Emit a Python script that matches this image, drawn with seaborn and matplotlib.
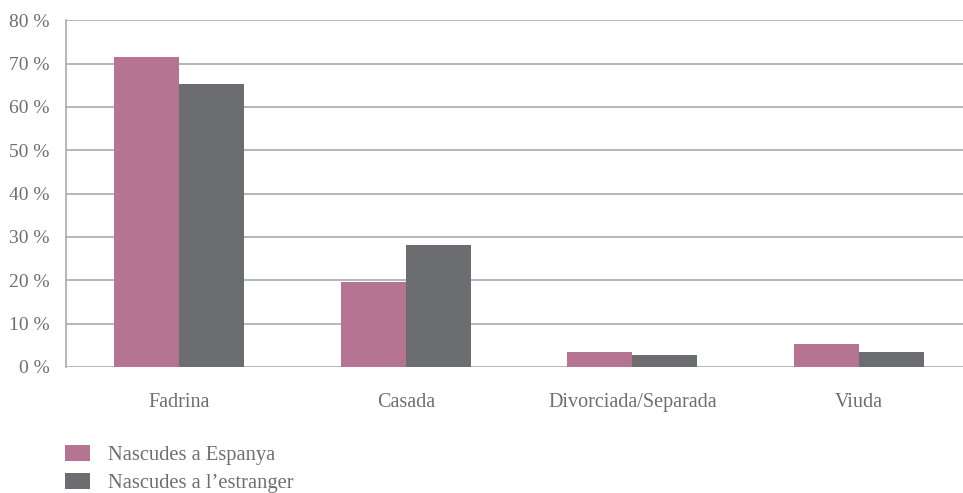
import matplotlib
matplotlib.use("Agg")
import matplotlib.pyplot as plt
from matplotlib.patches import Patch
import seaborn as sns
import pandas as pd

categories = ["Fadrina", "Casada", "Divorciada/Separada", "Viuda"]
series_names = ["Nascudes a Espanya", "Nascudes a l\u2019estranger"]
espanya = [71.6, 19.5, 3.4, 5.2]
estranger = [65.2, 28.2, 2.85, 3.4]
y_ticks = [0, 10, 20, 30, 40, 50, 60, 70, 80]

PINK = "#B57492"
GREY = "#6C6D71"
GRID = "#A9AAAD"
TEXT = "#6D6E71"

df = pd.DataFrame({
    "estat": categories * 2,
    "grup": [series_names[0]] * 4 + [series_names[1]] * 4,
    "valor": espanya + estranger,
})

sns.set_theme(style="white")
plt.rcParams["font.family"] = ["Liberation Serif", "DejaVu Serif"]

fig = plt.figure(figsize=(9.63, 4.93), dpi=100)
ax = fig.add_axes([0.0685, 0.2556, 0.9315, 0.7034])

sns.barplot(data=df, x="estat", y="valor", hue="grup", order=categories,
            hue_order=series_names, palette=[PINK, GREY], saturation=1,
            width=0.574, gap=0, linewidth=0, ax=ax, legend=False, zorder=3)

ax.set_ylim(0, 80)
ax.set_xlim(-0.5, 3.46)
ax.set_yticks(y_ticks)
ax.set_yticklabels([f"{t} %" for t in y_ticks])
ax.yaxis.grid(True, color=GRID, linewidth=1.2, zorder=0)
ax.set_axisbelow(True)
for side in ["top", "right", "bottom"]:
    ax.spines[side].set_visible(False)
ax.spines["left"].set_color(GRID)
ax.spines["left"].set_linewidth(1.2)
ax.tick_params(axis="both", length=0, colors=TEXT)
ax.tick_params(axis="y", pad=12, labelsize=14)
ax.tick_params(axis="x", pad=19, labelsize=14.5)
ax.set_xlabel("")
ax.set_ylabel("")

handles = [Patch(facecolor=PINK, edgecolor="none"), Patch(facecolor=GREY, edgecolor="none")]
leg = fig.legend(handles, series_names, loc="lower left", bbox_to_anchor=(0.0675, -0.001),
                 frameon=False, fontsize=14.8, handlelength=1.2, handleheight=0.8,
                 handletextpad=0.9, labelspacing=0.42, borderpad=0, borderaxespad=0)
for t in leg.get_texts():
    t.set_color(TEXT)

fig.savefig("out.png", dpi=100)
